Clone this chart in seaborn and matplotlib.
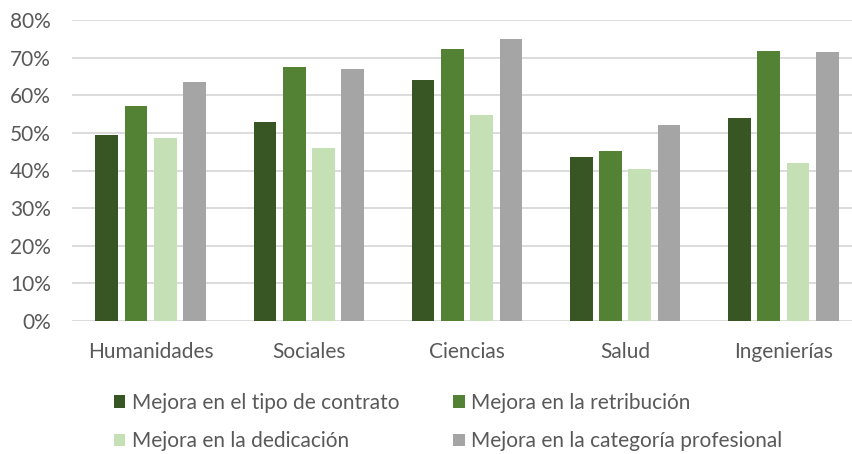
import matplotlib
matplotlib.use("Agg")
import matplotlib.pyplot as plt
from matplotlib.ticker import PercentFormatter
import seaborn as sns
import pandas as pd

categories = ["Humanidades", "Sociales", "Ciencias", "Salud", "Ingenierías"]
series = [
    "Mejora en el tipo de contrato",
    "Mejora en la retribución",
    "Mejora en la dedicación",
    "Mejora en la categoría profesional",
]
contrato = [49.5, 52.9, 64.0, 43.5, 53.9]
retribucion = [57.1, 67.6, 72.3, 45.3, 71.7]
dedicacion = [48.6, 46.0, 54.8, 40.3, 42.1]
categoria = [63.5, 67.0, 74.9, 52.0, 71.4]
yticks = [0, 10, 20, 30, 40, 50, 60, 70, 80]

colors = ["#375623", "#548235", "#C5E0B4", "#A5A5A5"]

rows = []
for name, vals in zip(series, [contrato, retribucion, dedicacion, categoria]):
    for cat, v in zip(categories, vals):
        rows.append({"Área": cat, "Serie": name, "Valor": v})
df = pd.DataFrame(rows)

sns.set_theme(style="white")
plt.rcParams["font.family"] = ["Lato", "DejaVu Sans"]
text_color = "#595959"
fs = 15

fig = plt.figure(figsize=(8.53, 4.54), dpi=100)
# plot area runs slightly past the right edge of the canvas
ax = fig.add_axes([71.5 / 853, 1 - 321 / 454, 791 / 853, 301 / 454])

sns.barplot(
    data=df, x="Área", y="Valor", hue="Serie",
    hue_order=series, order=categories, palette=colors,
    width=0.74, gap=0.225, ax=ax, legend=True, saturation=1,
    edgecolor="none",
)

ax.set_ylim(0, 80)
ax.set_yticks(yticks)
ax.yaxis.set_major_formatter(PercentFormatter(decimals=0))
ax.grid(axis="y", color="#D9D9D9", linewidth=1.3)
ax.set_axisbelow(True)
for s in ax.spines.values():
    s.set_visible(False)
ax.set_xlabel("")
ax.set_ylabel("")
ax.tick_params(axis="y", length=0, pad=15, labelsize=fs, labelcolor=text_color)
ax.tick_params(axis="x", length=0, pad=15, labelsize=fs, labelcolor=text_color)
ax.set_xlim(-0.5, len(categories) - 0.5)

# legend laid out row by row in two columns
handles, labels = ax.get_legend_handles_labels()
ax.get_legend().remove()
order = [0, 2, 1, 3]
fig.legend(
    [handles[i] for i in order], [labels[i] for i in order],
    ncol=2, loc="upper left",
    bbox_to_anchor=(114 / 853, 1 - 393 / 454),
    frameon=False, fontsize=fs, labelcolor=text_color,
    borderpad=0, borderaxespad=0,
    handlelength=0.55, handleheight=0.55, handletextpad=0.3,
    columnspacing=2.6, labelspacing=0.88,
)

fig.savefig("out.png", dpi=100)
